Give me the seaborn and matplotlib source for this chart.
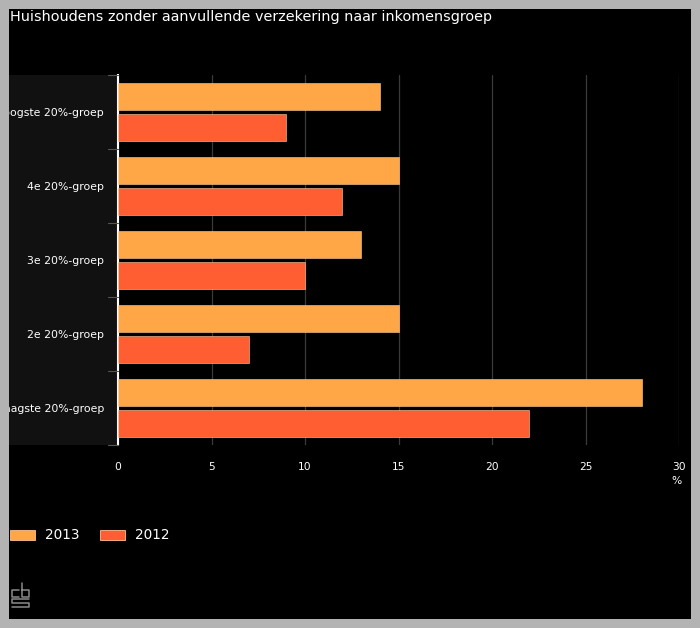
import matplotlib
matplotlib.use("Agg")
import matplotlib.pyplot as plt
import seaborn as sns
import pandas as pd
from matplotlib.patches import Rectangle
from matplotlib.lines import Line2D

title = "Huishoudens zonder aanvullende verzekering naar inkomensgroep"
categories = ["Hoogste 20%-groep", "4e 20%-groep", "3e 20%-groep", "2e 20%-groep", "Laagste 20%-groep"]
series_names = ["2013", "2012"]
values_2013 = [14, 15, 13, 15, 28]
values_2012 = [9, 12, 10, 7, 22]
x_ticks = [0, 5, 10, 15, 20, 25, 30]
colors = ["#FFA646", "#FF5E33"]

df = pd.DataFrame({
    "groep": categories * 2,
    "jaar": [series_names[0]] * len(categories) + [series_names[1]] * len(categories),
    "waarde": values_2013 + values_2012,
})

sns.set_style("dark")
plt.rcParams["font.family"] = ["DejaVu Sans"]

W, H = 700, 628
fig = plt.figure(figsize=(7, 6.28), dpi=100)
fig.patch.set_facecolor("black")

ax = fig.add_axes([118 / W, 1 - 445 / H, (679 - 118) / W, (445 - 75) / H])
ax.set_facecolor("black")

# dark label panel
fig.add_artist(Rectangle((9 / W, 1 - 445 / H), (118 - 9) / W, (445 - 75) / H,
                         transform=fig.transFigure, facecolor="#111111",
                         edgecolor="none", zorder=-1))

sns.barplot(data=df, y="groep", x="waarde", hue="jaar", hue_order=series_names,
            order=categories, palette=colors, saturation=1, orient="h", width=0.84, gap=0.13,
            edgecolor="#ffd0a0", linewidth=0.4, legend=False, ax=ax, zorder=3)

ax.set_xlim(0, 30)
ax.set_ylim(4.5, -0.5)
ax.set_xticks(x_ticks)
ax.set_xticklabels([str(t) for t in x_ticks], color="white", fontsize=7.7)
ax.xaxis.grid(True, color="#3a3a3a", linewidth=0.9, zorder=0)
ax.yaxis.grid(False)
ax.tick_params(axis="x", length=0, pad=12)
ax.set_yticks(range(len(categories)))
ax.set_yticklabels(categories, color="white", fontsize=7.8)
ax.tick_params(axis="y", length=0, pad=10)
ax.set_xlabel("")
ax.set_ylabel("")
for side in ["top", "right", "bottom"]:
    ax.spines[side].set_visible(False)
ax.spines["left"].set_visible(True)
ax.spines["left"].set_color("white")
ax.spines["left"].set_linewidth(1.5)
# band boundary ticks on y axis
for b in [-0.5, 0.5, 1.5, 2.5, 3.5, 4.5]:
    ax.plot([-0.55, 0], [b, b], color="#555555", lw=0.8, clip_on=False, zorder=4)

fig.text(682 / W, 1 - 481 / H, "%", color="white", fontsize=7.7, ha="right", va="center")

fig.text(10 / W, 1 - 17 / H, title, color="white", fontsize=10.4, ha="left", va="center")

# legend
for i, (name, c) in enumerate(zip(series_names, colors)):
    x0 = 10 + i * 90
    fig.add_artist(Rectangle((x0 / W, 1 - 540 / H), 25 / W, 10 / H, transform=fig.transFigure,
                             facecolor=c, edgecolor="#ffc090", linewidth=0.6))
    fig.text((x0 + 35) / W, 1 - 535 / H, name, color="white", fontsize=9.8, ha="left", va="center")

# cbs logo approximation (pixel polylines)
logo = [
    [(19, 590), (12, 590), (12, 597), (19, 597)],                 # c
    [(22, 583), (22, 597), (29, 597), (29, 590), (22, 590)],      # b
    [(29, 599), (12, 599), (12, 603), (29, 603), (29, 607), (12, 607)],  # S
]
for pts in logo:
    xs = [p[0] / W for p in pts]
    ys = [1 - p[1] / H for p in pts]
    fig.add_artist(Line2D(xs, ys, transform=fig.transFigure, color="#8a8a8a", lw=1.1))

# gray outer border drawn on top
bc = "#b3b3b3"
fig.add_artist(Rectangle((0, 0), 9 / W, 1, transform=fig.transFigure, facecolor=bc, edgecolor="none", zorder=20))
fig.add_artist(Rectangle((691 / W, 0), 9 / W, 1, transform=fig.transFigure, facecolor=bc, edgecolor="none", zorder=20))
fig.add_artist(Rectangle((0, 1 - 9 / H), 1, 9 / H, transform=fig.transFigure, facecolor=bc, edgecolor="none", zorder=20))
fig.add_artist(Rectangle((0, 0), 1, 9 / H, transform=fig.transFigure, facecolor=bc, edgecolor="none", zorder=20))

fig.savefig("out.png", dpi=100, facecolor=fig.get_facecolor())
